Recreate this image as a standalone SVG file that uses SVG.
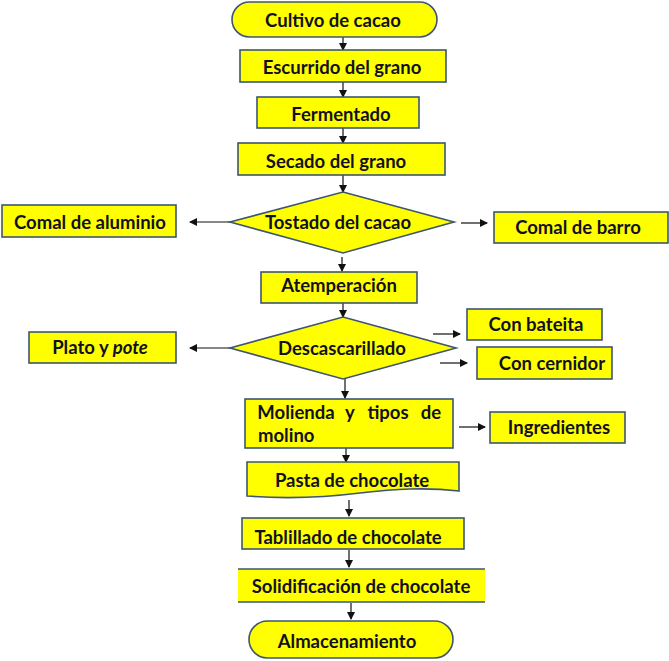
<svg xmlns="http://www.w3.org/2000/svg" width="669" height="661" viewBox="0 0 669 661">
<defs>
<style>
.n{fill:#ffff00;stroke:#3d5570;stroke-width:1.6}
.t{font-family:Lato,"Liberation Sans",sans-serif;font-weight:bold;font-size:18.5px;fill:#111122;text-anchor:middle;dominant-baseline:central}
.c line{stroke:#111;stroke-width:1.2;marker-end:url(#ah)}
</style>
<marker id="ah" markerWidth="8" markerHeight="8" refX="7" refY="4" orient="auto" markerUnits="userSpaceOnUse">
<path d="M0,0 L8,4 L0,8 z" fill="#111"/>
</marker>
</defs>
<rect width="669" height="661" fill="#ffffff"/>
<g class="c" id="connectors">
<line x1="343" y1="37" x2="343" y2="50"/>
<line x1="343" y1="82" x2="343" y2="97"/>
<line x1="343" y1="128" x2="343" y2="143"/>
<line x1="343" y1="175" x2="343" y2="192"/>
<line x1="230" y1="222" x2="190" y2="222"/>
<line x1="461" y1="223" x2="487" y2="223"/>
<line x1="342" y1="257" x2="342" y2="271"/>
<line x1="343" y1="303" x2="343" y2="317"/>
<line x1="230" y1="348" x2="190" y2="348"/>
<line x1="433" y1="334" x2="460" y2="334"/>
<line x1="440" y1="363" x2="467" y2="363"/>
<line x1="345" y1="379" x2="345" y2="398"/>
<line x1="459" y1="427" x2="485" y2="427"/>
<line x1="346" y1="448" x2="346" y2="462"/>
<line x1="349" y1="500" x2="349" y2="516"/>
<line x1="349" y1="550" x2="349" y2="567"/>
<line x1="351" y1="603" x2="351" y2="619"/>
</g>
<g id="cultivo"><rect class="n" x="232" y="2" width="205" height="35" rx="17.5"/><text class="t" x="333" y="20">Cultivo de cacao</text></g>
<g id="escurrido"><rect class="n" x="240" y="50" width="206" height="32"/><text class="t" x="342" y="67">Escurrido del grano</text></g>
<g id="fermentado"><rect class="n" x="257" y="97" width="162" height="31"/><text class="t" x="341" y="114">Fermentado</text></g>
<g id="secado"><rect class="n" x="238" y="143" width="207" height="32"/><text class="t" x="336" y="161">Secado del grano</text></g>
<g id="tostado"><polygon class="n" points="343,192 454,222 343,253 230,222"/><text class="t" x="338" y="222">Tostado del cacao</text></g>
<g id="comal-aluminio"><rect class="n" x="2" y="205" width="174" height="32"/><text class="t" x="90" y="222">Comal de aluminio</text></g>
<g id="comal-barro"><rect class="n" x="494" y="212" width="174" height="31"/><text class="t" x="578" y="227">Comal de barro</text></g>
<g id="atemperacion"><rect class="n" x="261" y="272" width="156" height="31"/><text class="t" x="339" y="285">Atemperación</text></g>
<g id="descascarillado"><polygon class="n" points="343,317 456,348 343,379 230,348"/><text class="t" x="342" y="348">Descascarillado</text></g>
<g id="plato"><rect class="n" x="29" y="332" width="147" height="31"/><text class="t" x="100" y="347">Plato y <tspan font-style="italic">pote</tspan></text></g>
<g id="bateita"><rect class="n" x="467" y="309" width="135" height="31"/><text class="t" x="536" y="324">Con bateita</text></g>
<g id="cernidor"><rect class="n" x="477" y="347" width="135" height="32"/><text class="t" x="552" y="363">Con cernidor</text></g>
<g id="molienda"><rect class="n" x="245" y="399" width="208" height="49"/><text class="t" y="412"><tspan x="296">Molienda</tspan><tspan x="350">y</tspan><tspan x="388">tipos</tspan><tspan x="431">de</tspan></text><text class="t" style="text-anchor:start" x="258" y="435">molino</text></g>
<g id="ingredientes"><rect class="n" x="490" y="412" width="135" height="31"/><text class="t" x="559" y="427">Ingredientes</text></g>
<g id="pasta"><path class="n" d="M247,462 H459 V491 C425,487 395,489 360,493 C320,498 285,499 247,496 Z"/><text class="t" x="352" y="480">Pasta de chocolate</text></g>
<g id="tablillado"><rect class="n" x="242" y="518" width="222" height="31"/><text class="t" x="348" y="537">Tablillado de chocolate</text></g>
<g id="solidificacion"><rect x="238" y="569" width="247" height="33" fill="#ffff00"/><line x1="238" y1="569" x2="485" y2="569" stroke="#3d5570" stroke-width="1.6"/><line x1="238" y1="602" x2="485" y2="602" stroke="#3d5570" stroke-width="1.6"/><text class="t" x="361" y="586">Solidificación de chocolate</text></g>
<g id="almacenamiento"><rect class="n" x="249" y="621" width="204" height="37" rx="18.5"/><text class="t" x="347" y="641">Almacenamiento</text></g>
</svg>
